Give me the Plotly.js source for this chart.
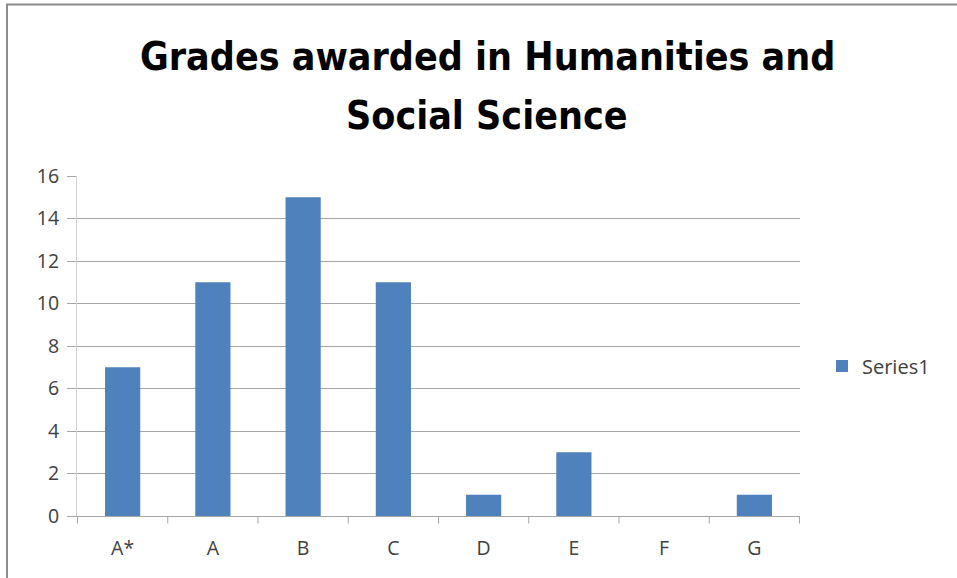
<!DOCTYPE html>
<html><head><meta charset="utf-8">
<script src="https://cdn.plot.ly/plotly-3.0.1.min.js"></script>
<style>html,body{margin:0;padding:0;background:#fff}#c{width:957px;height:578px}</style>
</head><body><div id="c"></div>
<script>
const categories = ["A*","A","B","C","D","E","F","G"];
const series1 = [7,11,15,11,1,3,0,1];
const tickVals = [0,2,4,6,8,10,12,14,16];
const titleLines = ["Grades awarded in Humanities and", "Social Science"];

const W = 957, H = 578, L = 77, R = 800, T = 176, B = 516;
const px = x => (x - L) / (R - L);
const py = y => (B - y) / (B - T);

const trace = {
  type: "bar", x: categories, y: series1, name: "Series1",
  marker: {color: "#4f81bd", line: {width: 0}}, hoverinfo: "x+y"
};
const titleFont = {family: "DejaVu Sans Condensed, Liberation Sans Narrow, sans-serif", size: 39, color: "#000", weight: "bold"};
const tickFont = {family: "Open Sans, sans-serif", size: 19.5, color: "#404040"};
const legendFont = {family: "Open Sans, sans-serif", size: 20, color: "#404040"};
const layout = {
  width: W, height: H,
  margin: {l: L, r: W - R, t: T, b: H - B},
  paper_bgcolor: "#fff", plot_bgcolor: "#fff",
  bargap: 0.61,
  xaxis: {type: "category", showgrid: false, zeroline: false,
    showline: true, linecolor: "#a6a6a6", linewidth: 1,
    ticks: "", tickfont: tickFont, ticklabelstandoff: 15},
  yaxis: {range: [0,16], tickvals: tickVals, showgrid: true, gridcolor: "#a6a6a6", gridwidth: 1,
    zeroline: false, showline: true, linecolor: "#d0d0d0", linewidth: 1,
    ticks: "outside", ticklen: 9, tickcolor: "#a6a6a6", tickfont: tickFont, ticklabelstandoff: 4},
  showlegend: true,
  legend: {x: px(822), y: py(366), xanchor: "left", yanchor: "middle",
    font: legendFont, itemwidth: 30},
  annotations: [
    {text: titleLines[0], xref: "paper", yref: "paper", x: px(487), y: py(57), xanchor: "center", yanchor: "middle", showarrow: false, font: titleFont},
    {text: titleLines[1], xref: "paper", yref: "paper", x: px(487), y: py(115), xanchor: "center", yanchor: "middle", showarrow: false, font: titleFont}
  ],
  shapes: [
    {type: "line", xref: "paper", yref: "paper", x0: px(6), x1: px(957), y0: py(4.5), y1: py(4.5), line: {color: "#8c8c8c", width: 2}},
    {type: "line", xref: "paper", yref: "paper", x0: px(7), x1: px(7), y0: py(4), y1: py(578), line: {color: "#8c8c8c", width: 2}}
  ].concat(categories.concat([""]).map((c,i)=>({type:"line", xref:"x", yref:"paper", x0:i-0.5, x1:i-0.5, y0:0, y1:-0.022, line:{color:"#a6a6a6",width:1}})))
};
Plotly.newPlot("c", [trace], layout, {displayModeBar: false, staticPlot: true});
</script></body></html>
